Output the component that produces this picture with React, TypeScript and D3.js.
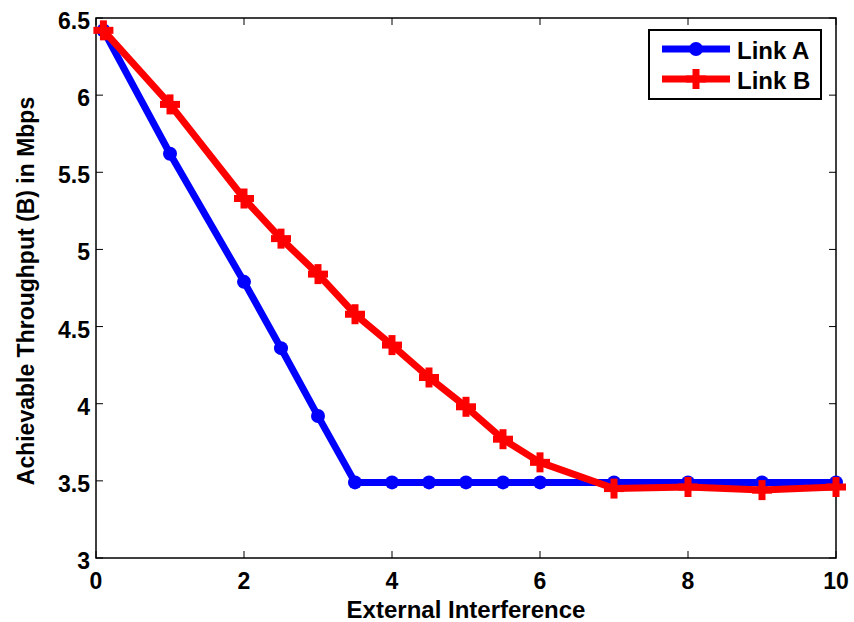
import React from "react";
import * as d3 from "d3";

const xA = [0.1, 1, 2, 2.5, 3, 3.5, 4, 4.5, 5, 5.5, 6, 7, 8, 9, 10];
const yA = [6.42, 5.62, 4.79, 4.36, 3.92, 3.49, 3.49, 3.49, 3.49, 3.49, 3.49, 3.49, 3.49, 3.49, 3.49];
const xB = [0.1, 1, 2, 2.5, 3, 3.5, 4, 4.5, 5, 5.5, 6, 7, 8, 9, 10];
const yB = [6.42, 5.94, 5.33, 5.07, 4.84, 4.58, 4.38, 4.17, 3.98, 3.77, 3.62, 3.45, 3.46, 3.44, 3.46];
const xTicks = [0, 2, 4, 6, 8, 10];
const yTicks = [3, 3.5, 4, 4.5, 5, 5.5, 6, 6.5];
const seriesNames = ["Link A", "Link B"];

const W = 854, H = 622;
const L = 96, R = 836, T = 18, B = 558;

export default function App() {
  const x = d3.scaleLinear().domain([0, 10]).range([L, R]);
  const y = d3.scaleLinear().domain([3, 6.5]).range([B, T]);
  const line = d3.line<[number, number]>().x(d => x(d[0])).y(d => y(d[1]));
  const ptsA: [number, number][] = xA.map((v, i) => [v, yA[i]]);
  const ptsB: [number, number][] = xB.map((v, i) => [v, yB[i]]);
  const font = "'Liberation Sans', Arial, sans-serif";
  const plus = (cx: number, cy: number, k: string) => (
    <g key={k}>
      <line x1={cx - 10} x2={cx + 10} y1={cy} y2={cy} stroke="#ff0000" strokeWidth={7} />
      <line x1={cx} x2={cx} y1={cy - 10} y2={cy + 10} stroke="#ff0000" strokeWidth={7} />
    </g>
  );
  return (
    <svg width={W} height={H} style={{ position: "absolute", left: 0, top: 0, background: "#fff" }}>
      <rect x={0} y={0} width={W} height={H} fill="#fff" />
      {xTicks.map((t, i) => (
        <g key={"xt" + i}>
          <line x1={x(t)} x2={x(t)} y1={B} y2={B - 7} stroke="#000" strokeWidth={1} />
          <line x1={x(t)} x2={x(t)} y1={T} y2={T + 7} stroke="#000" strokeWidth={1} />
          <text x={x(t)} y={B + 31} textAnchor="middle" fontFamily={font} fontWeight="bold" fontSize={23}>{t}</text>
        </g>
      ))}
      {yTicks.map((t, i) => (
        <g key={"yt" + i}>
          <line x1={L} x2={L + 7} y1={y(t)} y2={y(t)} stroke="#000" strokeWidth={1} />
          <line x1={R} x2={R - 7} y1={y(t)} y2={y(t)} stroke="#000" strokeWidth={1} />
          <text x={L - 6} y={y(t) + 11} textAnchor="end" fontFamily={font} fontWeight="bold" fontSize={23}>{t}</text>
        </g>
      ))}
      <rect x={L} y={T} width={R - L} height={B - T} fill="none" stroke="#000" strokeWidth={1.5} />
      <path d={line(ptsA) || ""} fill="none" stroke="#0000ff" strokeWidth={7} strokeLinejoin="round" />
      {ptsA.map((p, i) => <circle key={"a" + i} cx={x(p[0])} cy={y(p[1])} r={7} fill="#0000ff" />)}
      <path d={line(ptsB) || ""} fill="none" stroke="#ff0000" strokeWidth={7} strokeLinejoin="round" />
      {ptsB.map((p, i) => plus(x(p[0]), y(p[1]), "b" + i))}
      <rect x={649} y={30} width={172} height={69} fill="#fff" stroke="#000" strokeWidth={2} />
      <line x1={662} x2={730} y1={49} y2={49} stroke="#0000ff" strokeWidth={7} />
      <circle cx={696} cy={49} r={7} fill="#0000ff" />
      <text x={737} y={59} fontFamily={font} fontSize={24} fontWeight="bold">{seriesNames[0]}</text>
      <line x1={662} x2={730} y1={79} y2={79} stroke="#ff0000" strokeWidth={7} />
      {plus(696, 79, "lg")}
      <text x={737} y={89} fontFamily={font} fontSize={24} fontWeight="bold">{seriesNames[1]}</text>
      <text x={466} y={618} textAnchor="middle" fontFamily={font} fontWeight="bold" fontSize={24}>External Interference</text>
      <text transform={`translate(34, 291) rotate(-90)`} textAnchor="middle" fontFamily={font} fontWeight="bold" fontSize={23}>Achievable Throughput (B) in Mbps</text>
    </svg>
  );
}
